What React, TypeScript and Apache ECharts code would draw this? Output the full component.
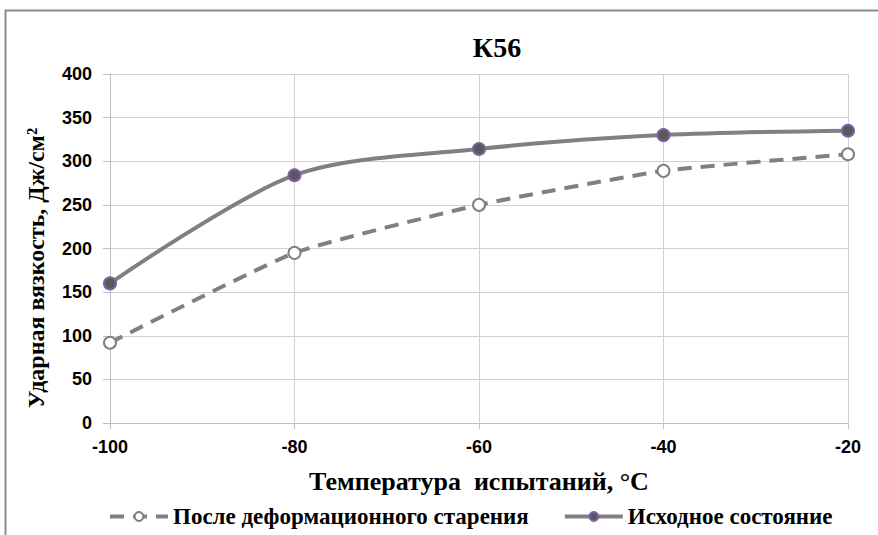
import React, { useEffect, useRef } from "react";
import * as echarts from "echarts";

const temperatures = [-100, -80, -60, -40, -20];
const afterAging = [92, 195, 250, 289, 308];
const initialState = [160, 284, 314, 330, 335];
const seriesNames = ["После деформационного старения", "Исходное состояние"];
const chartTitle = "К56";
const xAxisTitle = "Температура  испытаний, °С";
const yAxisTitle = "Ударная вязкость, Дж/см²";

export default function App() {
  const ref = useRef<HTMLDivElement>(null);
  useEffect(() => {
    document.body.style.margin = "0";
    const chart = echarts.init(ref.current!, null, { renderer: "svg" });
    const serif = "'Liberation Serif', 'Times New Roman', serif";
    const sans = "'Liberation Sans', Arial, sans-serif";
    chart.setOption({
      animation: false,
      backgroundColor: "#ffffff",
      title: {
        text: chartTitle,
        left: 492,
        top: 28,
        textAlign: "center",
        textStyle: { fontFamily: serif, fontWeight: "bold", fontSize: 28, color: "#000" },
      },
      graphic: [
        {
          type: "rect",
          shape: { x: 5.5, y: 10.5, width: 880, height: 540 },
          style: { fill: "none", stroke: "#8c8c8c", lineWidth: 2 },
          silent: true,
          z: 100,
        },
        {
          type: "text",
          x: 36,
          y: 268,
          rotation: Math.PI / 2,
          style: {
            text: yAxisTitle,
            fontFamily: serif,
            fontWeight: "bold",
            fontSize: 24,
            fill: "#000",
            align: "center",
            verticalAlign: "middle",
          },
          silent: true,
        },
      ],
      grid: { left: 110, right: 30, top: 74, bottom: 112, containLabel: false },
      legend: {
        bottom: 2,
        left: 103,
        itemWidth: 58,
        itemHeight: 11,
        itemGap: 34,
        lineStyle: { width: 4 },
        textStyle: { fontFamily: serif, fontWeight: "bold", fontSize: 23, color: "#000" },
        data: seriesNames,
      },
      xAxis: {
        type: "value",
        min: -100,
        max: -20,
        interval: 20,
        name: xAxisTitle,
        nameLocation: "middle",
        nameGap: 45,
        nameTextStyle: { fontFamily: serif, fontWeight: "bold", fontSize: 26, color: "#000" },
        axisLine: { show: true, lineStyle: { color: "#bfbfbf" } },
        axisTick: { show: true, length: 6, lineStyle: { color: "#bfbfbf" } },
        axisLabel: { fontFamily: sans, fontWeight: "bold", fontSize: 18, color: "#000", margin: 15 },
        splitLine: { show: true, lineStyle: { color: "#d0d0d0" } },
      },
      yAxis: {
        type: "value",
        min: 0,
        max: 400,
        interval: 50,
        axisLine: { show: true, lineStyle: { color: "#bfbfbf" } },
        axisTick: { show: true, length: 7, lineStyle: { color: "#bfbfbf" } },
        axisLabel: { fontFamily: sans, fontWeight: "bold", fontSize: 18, color: "#000", margin: 18 },
        splitLine: { show: true, lineStyle: { color: "#d0d0d0" } },
      },
      series: [
        {
          name: seriesNames[0],
          type: "line",
          data: temperatures.map((t, i) => [t, afterAging[i]]),
          smooth: 0.15,
          symbol: "circle",
          symbolSize: 12,
          lineStyle: { color: "#808080", width: 4, type: [14, 9] },
          itemStyle: { color: "#ffffff", borderColor: "#808080", borderWidth: 2 },
          z: 2,
        },
        {
          name: seriesNames[1],
          type: "line",
          data: temperatures.map((t, i) => [t, initialState[i]]),
          smooth: 0.3,
          symbol: "circle",
          symbolSize: 12,
          lineStyle: { color: "#808080", width: 4 },
          itemStyle: { color: "#595959", borderColor: "#7d5fa5", borderWidth: 2 },
          z: 3,
        },
      ],
    });
    return () => chart.dispose();
  }, []);
  return <div ref={ref} style={{ width: 878, height: 535 }} />;
}
